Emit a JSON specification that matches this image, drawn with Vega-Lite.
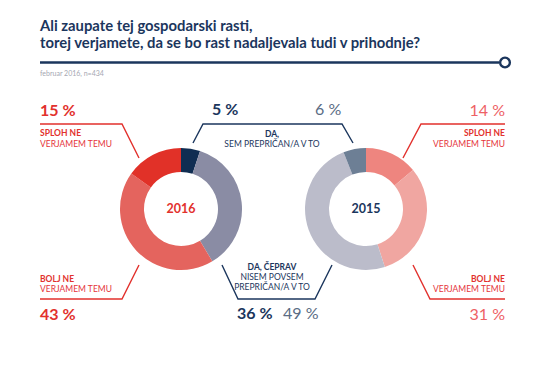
{
  "$schema": "https://vega.github.io/schema/vega-lite/v6.json",
  "width": 550,
  "height": 367,
  "padding": 0,
  "autosize": {"type": "none"},
  "background": "white",
  "config": {"view": {"stroke": null}, "font": "Lato"},
  "datasets": {
    "donut": [
      {"year": "2016", "category": "Da, sem prepričan/a v to", "value": 5, "ord": 1},
      {"year": "2016", "category": "Da, čeprav nisem povsem prepričan/a v to", "value": 36, "ord": 2},
      {"year": "2016", "category": "Bolj ne verjamem temu", "value": 43, "ord": 3},
      {"year": "2016", "category": "Sploh ne verjamem temu", "value": 15, "ord": 4},
      {"year": "2015", "category": "Sploh ne verjamem temu", "value": 14, "ord": 1},
      {"year": "2015", "category": "Bolj ne verjamem temu", "value": 31, "ord": 2},
      {"year": "2015", "category": "Da, čeprav nisem povsem prepričan/a v to", "value": 49, "ord": 3},
      {"year": "2015", "category": "Da, sem prepričan/a v to", "value": 6, "ord": 4}
    ],
    "years": [{"year": "2016"}, {"year": "2015"}],
    "leaders": [
      {"id": "header", "i": 1, "x": 40, "y": 62.5},
      {"id": "header", "i": 2, "x": 499, "y": 62.5},
      {"id": "sploh2016", "i": 1, "x": 40, "y": 124},
      {"id": "sploh2016", "i": 2, "x": 122, "y": 124},
      {"id": "sploh2016", "i": 3, "x": 139, "y": 158},
      {"id": "bolj2016", "i": 1, "x": 40, "y": 299},
      {"id": "bolj2016", "i": 2, "x": 122, "y": 299},
      {"id": "bolj2016", "i": 3, "x": 139, "y": 265},
      {"id": "sploh2015", "i": 1, "x": 505, "y": 124},
      {"id": "sploh2015", "i": 2, "x": 421, "y": 124},
      {"id": "sploh2015", "i": 3, "x": 403, "y": 158},
      {"id": "bolj2015", "i": 1, "x": 505, "y": 299},
      {"id": "bolj2015", "i": 2, "x": 430, "y": 299},
      {"id": "bolj2015", "i": 3, "x": 413, "y": 265},
      {"id": "da", "i": 1, "x": 193, "y": 143},
      {"id": "da", "i": 2, "x": 203, "y": 124},
      {"id": "da", "i": 3, "x": 342, "y": 124},
      {"id": "da", "i": 4, "x": 353, "y": 143},
      {"id": "ceprav", "i": 1, "x": 222, "y": 265},
      {"id": "ceprav", "i": 2, "x": 238, "y": 299},
      {"id": "ceprav", "i": 3, "x": 315, "y": 299},
      {"id": "ceprav", "i": 4, "x": 332, "y": 265}
    ],
    "notes": [
      {"kind": "title", "text": "Ali zaupate tej gospodarski rasti,", "x": 40, "y": 30.5},
      {"kind": "title", "text": "torej verjamete, da se bo rast nadaljevala tudi v prihodnje?", "x": 40, "y": 47.5},
      {"kind": "subtitle", "text": "februar 2016, n=434", "x": 40, "y": 75.5},
      {"kind": "marker", "text": "", "x": 505, "y": 62.5},
      {"kind": "pct2016red", "text": "15 %", "x": 40, "y": 116},
      {"kind": "pct2016red", "text": "43 %", "x": 40, "y": 320},
      {"kind": "pct2015red", "text": "14 %", "x": 505, "y": 116},
      {"kind": "pct2015red", "text": "31 %", "x": 505, "y": 320},
      {"kind": "pct2016navy", "text": "5 %", "x": 212, "y": 115},
      {"kind": "pct2016navy", "text": "36 %", "x": 237, "y": 319},
      {"kind": "pct2015navy", "text": "6 %", "x": 315, "y": 115},
      {"kind": "pct2015navy", "text": "49 %", "x": 283, "y": 319},
      {"kind": "leftHead", "text": "SPLOH NE", "x": 40, "y": 136},
      {"kind": "leftBody", "text": "VERJAMEM TEMU", "x": 40, "y": 147},
      {"kind": "leftHead", "text": "BOLJ NE", "x": 40, "y": 282},
      {"kind": "leftBody", "text": "VERJAMEM TEMU", "x": 40, "y": 292},
      {"kind": "rightHead", "text": "SPLOH NE", "x": 505, "y": 136},
      {"kind": "rightBody", "text": "VERJAMEM TEMU", "x": 505, "y": 147},
      {"kind": "rightHead", "text": "BOLJ NE", "x": 505, "y": 282},
      {"kind": "rightBody", "text": "VERJAMEM TEMU", "x": 505, "y": 292},
      {"kind": "midHead", "text": "DA,", "x": 272, "y": 137},
      {"kind": "midBody", "text": "SEM PREPRIČAN/A V TO", "x": 272, "y": 147},
      {"kind": "midHead", "text": "DA, ČEPRAV", "x": 272, "y": 270},
      {"kind": "midBody", "text": "NISEM POVSEM", "x": 272, "y": 280},
      {"kind": "midBody", "text": "PREPRIČAN/A V TO", "x": 272, "y": 290}
    ]
  },
  "layer": [
    {
      "data": {"name": "donut"},
      "transform": [{"filter": "datum.year === '2016'"}],
      "mark": {"type": "arc", "innerRadius": 37, "outerRadius": 61},
      "encoding": {
        "x": {"field": "year", "type": "nominal", "scale": {"domain": ["2016", "2015"], "range": [181, 366], "padding": 0}, "axis": null},
        "y": {"field": "year", "type": "nominal", "scale": {"domain": ["2016", "2015"], "range": [209, 209], "padding": 0}, "axis": null},
        "theta": {"field": "value", "type": "quantitative", "stack": true},
        "order": {"field": "ord", "type": "quantitative"},
        "color": {
          "field": "category", "type": "nominal", "legend": null,
          "scale": {
            "domain": ["Da, sem prepričan/a v to", "Da, čeprav nisem povsem prepričan/a v to", "Bolj ne verjamem temu", "Sploh ne verjamem temu"],
            "range": ["#102d52", "#8a8ca4", "#e4645e", "#e13128"]
          }
        }
      }
    },
    {
      "data": {"name": "donut"},
      "transform": [{"filter": "datum.year === '2015'"}],
      "mark": {"type": "arc", "innerRadius": 37, "outerRadius": 61},
      "encoding": {
        "x": {"field": "year", "type": "nominal", "scale": {"domain": ["2016", "2015"], "range": [181, 366], "padding": 0}, "axis": null},
        "y": {"field": "year", "type": "nominal", "scale": {"domain": ["2016", "2015"], "range": [209, 209], "padding": 0}, "axis": null},
        "theta": {"field": "value", "type": "quantitative", "stack": true},
        "order": {"field": "ord", "type": "quantitative"},
        "color": {
          "field": "category", "type": "nominal", "legend": null,
          "scale": {
            "domain": ["Sploh ne verjamem temu", "Bolj ne verjamem temu", "Da, čeprav nisem povsem prepričan/a v to", "Da, sem prepričan/a v to"],
            "range": ["#ee857f", "#f0a6a1", "#bbbcca", "#6d7f95"]
          }
        }
      }
    },
    {
      "data": {"name": "years"},
      "mark": {"type": "text", "fontSize": 12.5, "fontWeight": "bold", "align": "center", "baseline": "middle"},
      "encoding": {
        "x": {"field": "year", "type": "nominal", "scale": {"domain": ["2016", "2015"], "range": [181, 366], "padding": 0}, "axis": null},
        "y": {"field": "year", "type": "nominal", "scale": {"domain": ["2016", "2015"], "range": [209, 209], "padding": 0}, "axis": null},
        "text": {"field": "year"},
        "color": {"field": "year", "type": "nominal", "legend": null, "scale": {"domain": ["2016", "2015"], "range": ["#e2312d", "#1b365d"]}}
      }
    },
    {
      "data": {"name": "leaders"},
      "encoding": {
        "x": {"field": "x", "type": "quantitative", "scale": {"domain": [0, 550], "range": [0, 550], "nice": false, "zero": false}, "axis": null},
        "y": {"field": "y", "type": "quantitative", "scale": {"domain": [0, 367], "range": [0, 367], "nice": false, "zero": false}, "axis": null},
        "detail": {"field": "id"},
        "order": {"field": "i", "type": "quantitative"}
      },
      "layer": [
        {"transform": [{"filter": {"field": "id", "oneOf": ["header"]}}], "mark": {"type": "line", "color": "#1b365d", "strokeWidth": 2.6}},
        {"transform": [{"filter": {"field": "id", "oneOf": ["sploh2016", "bolj2016", "sploh2015", "bolj2015"]}}], "mark": {"type": "line", "color": "#e2312d", "strokeWidth": 1.4}},
        {"transform": [{"filter": {"field": "id", "oneOf": ["da", "ceprav"]}}], "mark": {"type": "line", "color": "#1b365d", "strokeWidth": 1.4}}
      ]
    },
    {
      "data": {"name": "notes"},
      "encoding": {
        "x": {"field": "x", "type": "quantitative", "scale": {"domain": [0, 550], "range": [0, 550], "nice": false, "zero": false}, "axis": null},
        "y": {"field": "y", "type": "quantitative", "scale": {"domain": [0, 367], "range": [0, 367], "nice": false, "zero": false}, "axis": null},
        "text": {"field": "text"}
      },
      "layer": [
        {"transform": [{"filter": {"field": "kind", "equal": "marker"}}], "mark": {"type": "point", "shape": "circle", "size": 95, "filled": true, "fill": "white", "stroke": "#1b365d", "strokeWidth": 2.4, "opacity": 1}},
        {"transform": [{"filter": {"field": "kind", "equal": "title"}}], "mark": {"type": "text", "align": "left", "baseline": "alphabetic", "fontSize": 14.8, "fontWeight": "bold", "color": "#1b365d"}},
        {"transform": [{"filter": {"field": "kind", "equal": "subtitle"}}], "mark": {"type": "text", "align": "left", "baseline": "alphabetic", "fontSize": 7, "color": "#a5a7b2"}},
        {"transform": [{"filter": {"field": "kind", "equal": "pct2016red"}}], "mark": {"type": "text", "align": "left", "baseline": "alphabetic", "fontSize": 16, "fontWeight": "bold", "color": "#e2312d"}},
        {"transform": [{"filter": {"field": "kind", "equal": "pct2015red"}}], "mark": {"type": "text", "align": "right", "baseline": "alphabetic", "fontSize": 16, "fontWeight": "normal", "color": "#ee6165"}},
        {"transform": [{"filter": {"field": "kind", "equal": "pct2016navy"}}], "mark": {"type": "text", "align": "left", "baseline": "alphabetic", "fontSize": 16, "fontWeight": "bold", "color": "#1b365d"}},
        {"transform": [{"filter": {"field": "kind", "equal": "pct2015navy"}}], "mark": {"type": "text", "align": "left", "baseline": "alphabetic", "fontSize": 16, "fontWeight": "normal", "color": "#5a6c84"}},
        {"transform": [{"filter": {"field": "kind", "equal": "leftHead"}}], "mark": {"type": "text", "align": "left", "baseline": "alphabetic", "fontSize": 8.5, "fontWeight": "bold", "color": "#e2312d"}},
        {"transform": [{"filter": {"field": "kind", "equal": "leftBody"}}], "mark": {"type": "text", "align": "left", "baseline": "alphabetic", "fontSize": 8.5, "color": "#e5343a"}},
        {"transform": [{"filter": {"field": "kind", "equal": "rightHead"}}], "mark": {"type": "text", "align": "right", "baseline": "alphabetic", "fontSize": 8.5, "fontWeight": "bold", "color": "#e2312d"}},
        {"transform": [{"filter": {"field": "kind", "equal": "rightBody"}}], "mark": {"type": "text", "align": "right", "baseline": "alphabetic", "fontSize": 8.5, "color": "#e5343a"}},
        {"transform": [{"filter": {"field": "kind", "equal": "midHead"}}], "mark": {"type": "text", "align": "center", "baseline": "alphabetic", "fontSize": 8.5, "fontWeight": "bold", "color": "#1b365d"}},
        {"transform": [{"filter": {"field": "kind", "equal": "midBody"}}], "mark": {"type": "text", "align": "center", "baseline": "alphabetic", "fontSize": 8.5, "color": "#1b365d"}}
      ]
    }
  ],
  "resolve": {"scale": {"x": "independent", "y": "independent", "theta": "independent", "color": "independent"}}
}
